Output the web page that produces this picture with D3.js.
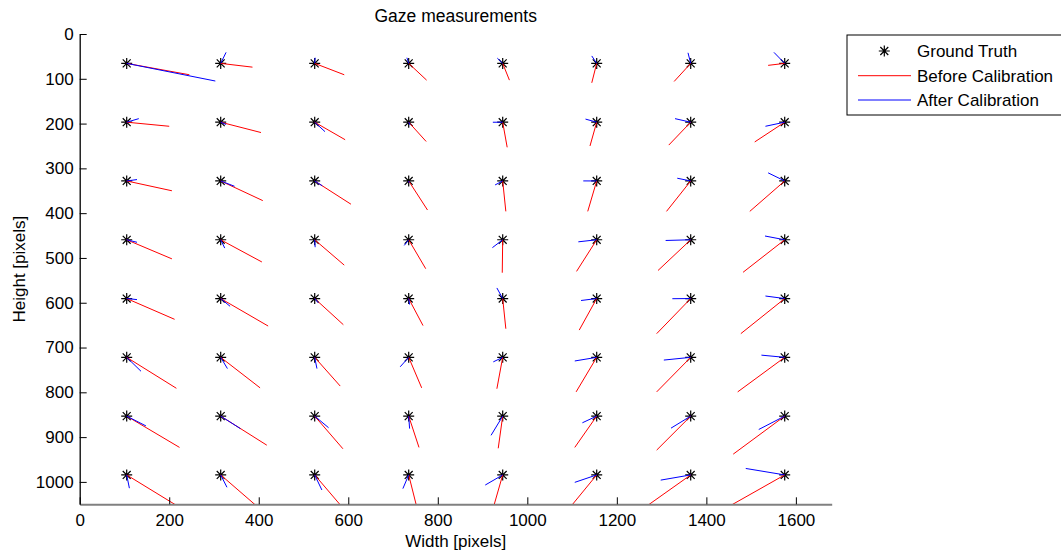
<!DOCTYPE html>
<html><head><meta charset="utf-8">
<script src="https://cdn.jsdelivr.net/npm/d3@7"></script>
<style>
body{margin:0;background:#fff;}
text{font-family:"Liberation Sans",Arial,sans-serif;fill:#000;}
</style>
</head><body>
<svg id="chart" width="1061" height="554"></svg>
<script>
// Ground-truth grid positions
const truthX = [105, 315, 525, 735, 945, 1155, 1365, 1575];
const truthY = [65.6, 196.9, 328.1, 459.4, 590.6, 721.9, 853.1, 984.4];

// Before calibration measured points (rows = truthY index, cols = truthX index)
const beforeX = [
  [245, 386, 591, 775, 960, 1144, 1328, 1538],
  [200, 405, 593, 774, 955, 1140, 1316, 1508],
  [206, 409, 606, 777, 952, 1135, 1311, 1497],
  [206, 407, 591, 773, 944, 1110, 1292, 1482],
  [212, 421, 589, 767, 952, 1116, 1289, 1477],
  [216, 403, 582, 764, 932, 1109, 1289, 1470],
  [223, 418, 588, 758, 935, 1106, 1289, 1460],
  [222, 407, 587, 753, 925, 1097, 1271, 1450]
];
const beforeY = [
  [91, 74, 91, 103, 103, 109, 106, 70],
  [206, 220, 236, 240, 253, 250, 248, 241],
  [350, 372, 380, 393, 396, 396, 396, 396],
  [502, 509, 516, 524, 533, 530, 528, 532],
  [637, 652, 649, 651, 658, 661, 669, 669],
  [791, 790, 786, 790, 792, 799, 799, 799],
  [923, 918, 926, 923, 925, 923, 929, 938],
  [1056, 1064, 1057, 1056, 1054, 1055, 1051, 1055]
];
// After calibration measured points
const afterX = [
  [303, 327, 526, 731, 933, 1144, 1359, 1551],
  [132, 327, 548, 738, 923, 1130, 1330, 1532],
  [128, 346, 542, 736, 928, 1125, 1335, 1538],
  [128, 324, 526, 725, 922, 1114, 1309, 1531],
  [128, 336, 533, 737, 932, 1120, 1324, 1532],
  [137, 330, 530, 716, 924, 1106, 1305, 1523],
  [148, 359, 556, 737, 919, 1123, 1321, 1517],
  [111, 329, 541, 722, 906, 1106, 1298, 1488]
];
const afterY = [
  [105, 41, 53, 53, 54, 49, 42, 41],
  [189, 202, 218, 203, 197, 190, 189, 206],
  [325, 340, 339, 332, 337, 328, 322, 310],
  [465, 478, 476, 472, 477, 464, 461, 451],
  [593, 608, 600, 604, 567, 595, 591, 585],
  [753, 747, 747, 743, 732, 730, 728, 717],
  [875, 881, 879, 881, 896, 868, 880, 883],
  [1014, 1012, 1018, 1015, 1007, 1001, 996, 970]
];

const xTicks = [0, 200, 400, 600, 800, 1000, 1200, 1400, 1600];
const yTicks = [0, 100, 200, 300, 400, 500, 600, 700, 800, 900, 1000];
const legendLabels = ["Ground Truth", "Before Calibration", "After Calibration"];
const titleText = "Gaze measurements";
const xLabel = "Width [pixels]";
const yLabel = "Height [pixels]";

const svg = d3.select("#chart");
const x = d3.scaleLinear().domain([0, 1680]).range([79.7, 831.7]);
const y = d3.scaleLinear().domain([0, 1050]).range([34, 504.3]);
const fs = 17;
const fmt = d3.format("d");

// clip
svg.append("defs").append("clipPath").attr("id", "clip")
  .append("rect").attr("x", x(0)).attr("y", y(0))
  .attr("width", x(1680) - x(0)).attr("height", y(1050) - y(0));

// build segments
const segs = [];
truthY.forEach((ty, r) => truthX.forEach((tx, c) => {
  segs.push({tx, ty, bx: beforeX[r][c], by: beforeY[r][c], ax: afterX[r][c], ay: afterY[r][c]});
}));

const starPath = (cx, cy, r) => {
  const d = r * 0.72;
  return `M${cx - r},${cy}L${cx + r},${cy}M${cx},${cy - r}L${cx},${cy + r}` +
    `M${cx - d},${cy - d}L${cx + d},${cy + d}M${cx - d},${cy + d}L${cx + d},${cy - d}`;
};

const plot = svg.append("g").attr("clip-path", "url(#clip)");
// stars
plot.append("g").selectAll("path").data(segs).join("path")
  .attr("d", d => starPath(x(d.tx), y(d.ty), 5.5))
  .attr("stroke", "#000").attr("stroke-width", 1.2).attr("fill", "none");
// red
plot.append("g").selectAll("line").data(segs).join("line")
  .attr("x1", d => x(d.tx)).attr("y1", d => y(d.ty))
  .attr("x2", d => x(d.bx)).attr("y2", d => y(d.by))
  .attr("stroke", "#ff0000").attr("stroke-width", 1);
// blue
plot.append("g").selectAll("line").data(segs).join("line")
  .attr("x1", d => x(d.tx)).attr("y1", d => y(d.ty))
  .attr("x2", d => x(d.ax)).attr("y2", d => y(d.ay))
  .attr("stroke", "#0000ff").attr("stroke-width", 1);

// axes
const xAxis = d3.axisBottom(x).tickValues(xTicks).tickFormat(fmt).tickSize(-7).tickPadding(10).tickSizeOuter(0);
const gx = svg.append("g").attr("transform", `translate(0,${y(1050)})`).call(xAxis);
gx.select(".domain").attr("stroke", "#808080").attr("stroke-width", 2);
gx.selectAll(".tick line").attr("stroke", "#000");
gx.selectAll("text").attr("font-size", fs).attr("fill", "#000").attr("font-family", "Liberation Sans, Arial, sans-serif");

const yAxis = d3.axisLeft(y).tickValues(yTicks).tickFormat(fmt).tickSize(-7).tickPadding(6).tickSizeOuter(0);
const gy = svg.append("g").attr("transform", `translate(${x(0)},0)`).call(yAxis);
gy.select(".domain").attr("stroke", "#000").attr("stroke-width", 1.3);
gy.selectAll(".tick line").attr("stroke", "#000");
gy.selectAll("text").attr("font-size", fs).attr("fill", "#000").attr("font-family", "Liberation Sans, Arial, sans-serif");

// title & labels
svg.append("text").attr("x", (x(0) + x(1680)) / 2).attr("y", 21.5)
  .attr("text-anchor", "middle").attr("font-size", 17.5).text(titleText);
svg.append("text").attr("x", (x(0) + x(1680)) / 2).attr("y", 547)
  .attr("text-anchor", "middle").attr("font-size", fs).text(xLabel);
svg.append("text").attr("transform", `translate(25,${(y(0) + y(1050)) / 2}) rotate(-90)`)
  .attr("text-anchor", "middle").attr("font-size", fs).text(yLabel);

// legend
const lg = svg.append("g");
lg.append("rect").attr("x", 847).attr("y", 35).attr("width", 240).attr("height", 80)
  .attr("fill", "#fff").attr("stroke", "#000").attr("stroke-width", 1);
const rowsY = [51, 75.7, 100];
lg.append("path").attr("d", starPath(884.3, rowsY[0], 5.5)).attr("stroke", "#000").attr("stroke-width", 1.2).attr("fill", "none");
lg.append("line").attr("x1", 858).attr("x2", 911).attr("y1", rowsY[1]).attr("y2", rowsY[1]).attr("stroke", "#ff0000");
lg.append("line").attr("x1", 858).attr("x2", 911).attr("y1", rowsY[2]).attr("y2", rowsY[2]).attr("stroke", "#0000ff");
lg.selectAll("text.lab").data(legendLabels).join("text").attr("class", "lab")
  .attr("x", 917).attr("y", (d, i) => rowsY[i] + 6).attr("font-size", fs).text(d => d);
</script>
</body></html>
